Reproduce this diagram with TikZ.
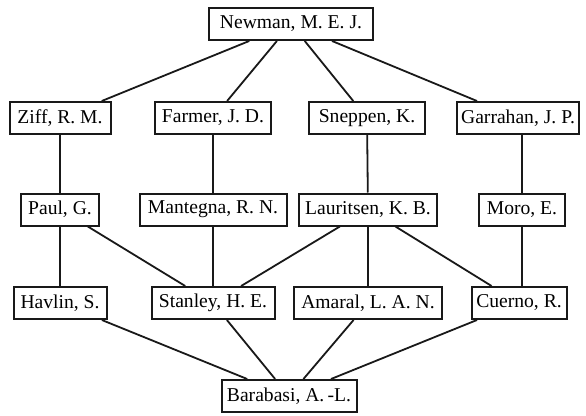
\documentclass[tikz,border=0pt]{standalone}
\usepackage{fontspec}
\setmainfont{Liberation Serif}
\begin{document}
\begin{tikzpicture}[x=1pt,y=-1pt,
  person/.style={draw=black!90, line width=2pt, fill=white, inner sep=0pt,
    minimum height=32pt, font=\fontsize{19.6}{21}\selectfont, text=black},
  link/.style={draw=black!90, line width=1.8pt}]
\useasboundingbox[fill=white] (0,0) rectangle (586,415);
% top
\node[person, minimum width=164pt] (newman) at (291,24) {Newman, M. E. J.};
% second row
\node[person, minimum width=101pt] (ziff) at (60,118) {Ziff, R. M.};
\node[person, minimum width=116pt] (farmer) at (213,118) {Farmer, J. D.};
\node[person, minimum width=116pt] (sneppen) at (367,118) {Sneppen, K.};
\node[person, minimum width=122pt] (garrahan) at (518,118) {Garrahan, J. P.};
% third row
\node[person, minimum width=78pt] (paul) at (60,209.5) {Paul, G.};
\node[person, minimum width=147pt] (mantegna) at (213,209.5) {Mantegna, R. N.};
\node[person, minimum width=138pt] (lauritsen) at (368,209.5) {Lauritsen, K. B.};
\node[person, minimum width=86pt] (moro) at (522,209.5) {Moro, E.};
% fourth row
\node[person, minimum width=93pt] (havlin) at (60,303) {Havlin, S.};
\node[person, minimum width=123pt] (stanley) at (213,303) {Stanley, H. E.};
\node[person, minimum width=148pt] (amaral) at (368,303) {Amaral, L. A. N.};
\node[person, minimum width=95pt] (cuerno) at (519,303) {Cuerno, R.};
% bottom
\node[person, minimum width=135pt] (barabasi) at (289,396) {Barabasi, A.\,-L.};
% connections between the boxes
\draw[link] (newman) -- (ziff);
\draw[link] (newman) -- (farmer);
\draw[link] (newman) -- (sneppen);
\draw[link] (newman) -- (garrahan);
\draw[link] (ziff) -- (paul);
\draw[link] (farmer) -- (mantegna);
\draw[link] (sneppen) -- (lauritsen);
\draw[link] (garrahan.south -| moro) -- (moro);
\draw[link] (paul) -- (havlin);
\draw[link] (paul) -- (stanley);
\draw[link] (mantegna) -- (stanley);
\draw[link] (lauritsen) -- (stanley);
\draw[link] (lauritsen) -- (amaral);
\draw[link] (lauritsen) -- (cuerno);
\draw[link] (moro.south) -- (moro.south |- cuerno.north);
\draw[link] (havlin) -- (barabasi);
\draw[link] (stanley) -- (barabasi);
\draw[link] (amaral) -- (barabasi);
\draw[link] (cuerno) -- (barabasi);
\end{tikzpicture}
\end{document}
